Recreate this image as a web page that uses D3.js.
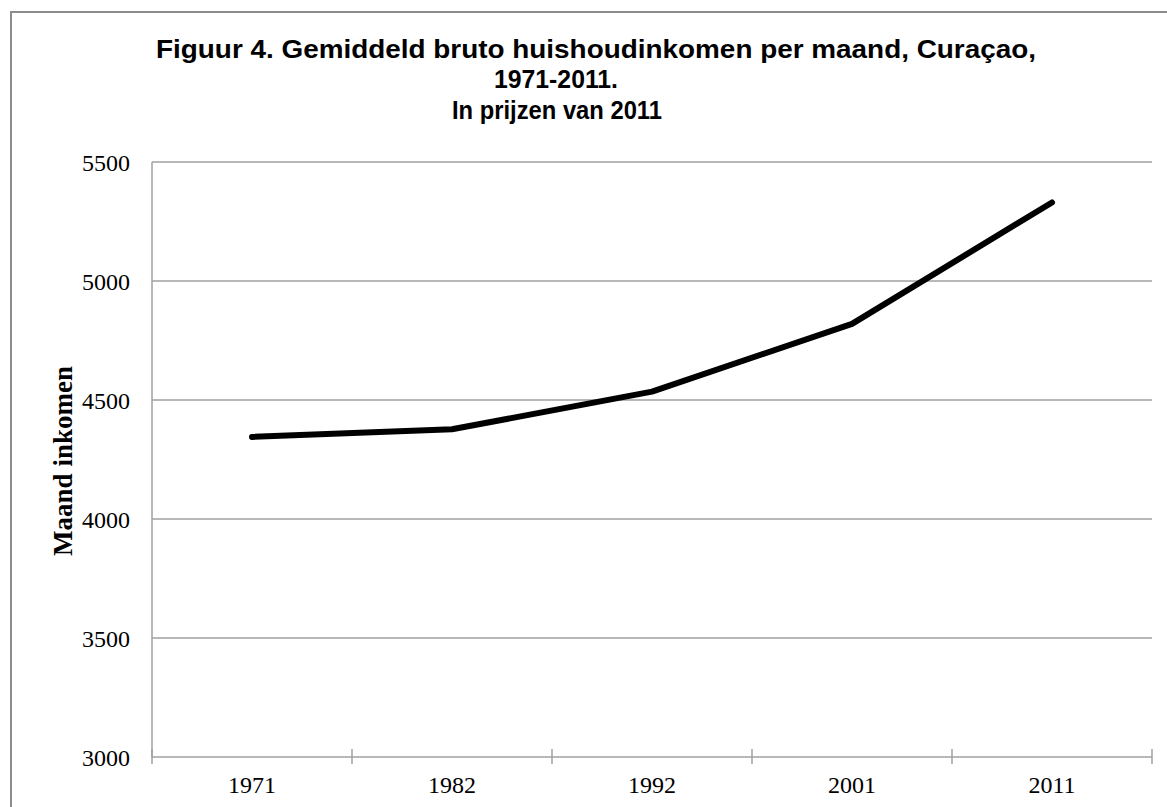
<!DOCTYPE html>
<html>
<head>
<meta charset="utf-8">
<script src="https://cdn.jsdelivr.net/npm/d3@7"></script>
<style>
  html, body { margin: 0; padding: 0; background: #fff; overflow: hidden; }
  svg { display: block; }
</style>
</head>
<body>
<div id="chart"></div>
<script>
// data
const years = ["1971", "1982", "1992", "2001", "2011"];
const income = [4345, 4377, 4535, 4820, 5330];
const yTicks = [3000, 3500, 4000, 4500, 5000, 5500];
const titleLines = [
  "Figuur 4. Gemiddeld bruto huishoudinkomen per maand, Curaçao,",
  "1971-2011.",
  "In prijzen van 2011"
];
const yLabel = "Maand inkomen";

const width = 1167,
      height = 807;
const margin = { top: 162, right: 15, bottom: 50, left: 152 };

const svg = d3.select("#chart")
              .append("svg")
              .attr("width", width)
              .attr("height", height);

// outer frame of the chart object (runs off the picture right and bottom)
svg.append("rect")
   .attr("x", 11).attr("y", 12)
   .attr("width", 1300).attr("height", 1000)
   .attr("fill", "none")
   .attr("stroke", "#8c8c8c")
   .attr("stroke-width", 2);

const x = d3.scaleBand()
            .domain(years)
            .range([margin.left, width - margin.right])
            .padding(0);

const y = d3.scaleLinear()
            .domain([3000, 5500])
            .range([height - margin.bottom, margin.top]);

const grey = "#a0a0a0";
const serif = "'Liberation Serif', 'Times New Roman', serif";

// y labels
const yAxis = svg.append("g")
                 .attr("transform", `translate(${margin.left},0)`)
                 .call(d3.axisLeft(y).tickValues(yTicks).tickSize(0).tickPadding(22).tickFormat(d3.format("d")));
yAxis.select(".domain").remove();
yAxis.selectAll("text")
     .attr("font-family", serif)
     .attr("font-size", 24)
     .attr("fill", "#000")
     .attr("dy", "0.36em");

// gridlines
svg.append("g")
   .selectAll("line")
   .data(yTicks)
   .join("line")
   .attr("x1", margin.left)
   .attr("x2", width - margin.right)
   .attr("y1", d => y(d))
   .attr("y2", d => y(d))
   .attr("stroke", grey)
   .attr("stroke-width", 1.5);

// left axis line
svg.append("line")
   .attr("x1", margin.left).attr("x2", margin.left)
   .attr("y1", y(5500)).attr("y2", y(3000))
   .attr("stroke", grey)
   .attr("stroke-width", 1.5);

// x axis: ticks at category boundaries, crossing the axis
const bounds = years.map(d => x(d)).concat([x(years[years.length - 1]) + x.bandwidth()]);
svg.append("g")
   .selectAll("line")
   .data(bounds)
   .join("line")
   .attr("x1", d => d).attr("x2", d => d)
   .attr("y1", y(3000) - 8).attr("y2", y(3000) + 7)
   .attr("stroke", grey)
   .attr("stroke-width", 1.5);

svg.append("g")
   .selectAll("text")
   .data(years)
   .join("text")
   .attr("x", d => x(d) + x.bandwidth() / 2)
   .attr("y", y(3000) + 36)
   .attr("text-anchor", "middle")
   .attr("font-family", serif)
   .attr("font-size", 24)
   .attr("fill", "#000")
   .text(d => d);

// the series
const line = d3.line()
               .x((d, i) => x(years[i]) + x.bandwidth() / 2)
               .y(d => y(d));

svg.append("path")
   .datum(income)
   .attr("d", line)
   .attr("fill", "none")
   .attr("stroke", "#000")
   .attr("stroke-width", 6)
   .attr("stroke-linejoin", "round")
   .attr("stroke-linecap", "round");

// y axis title
svg.append("text")
   .attr("transform", "translate(72,461) rotate(-90)")
   .attr("text-anchor", "middle")
   .attr("font-family", serif)
   .attr("font-weight", "bold")
   .attr("font-size", 27)
   .attr("fill", "#000")
   .text(yLabel);

// title
const titlePos = [
  { cx: 596, base: 58, len: 880 },
  { cx: 556, base: 88, len: 124 },
  { cx: 557, base: 119, len: 210 }
];
svg.append("g")
   .selectAll("text")
   .data(titleLines)
   .join("text")
   .attr("x", (d, i) => titlePos[i].cx)
   .attr("y", (d, i) => titlePos[i].base)
   .attr("text-anchor", "middle")
   .attr("textLength", (d, i) => titlePos[i].len)
   .attr("lengthAdjust", "spacingAndGlyphs")
   .attr("font-family", "'Liberation Sans', Arial, sans-serif")
   .attr("font-weight", "bold")
   .attr("font-size", 26)
   .attr("fill", "#000")
   .text(d => d);
</script>
</body>
</html>
